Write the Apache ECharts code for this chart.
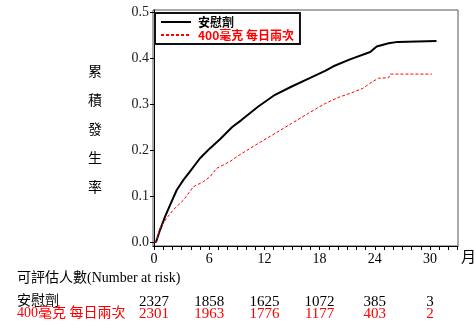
<!DOCTYPE html>
<html><head><meta charset="utf-8">
<script src="https://cdn.jsdelivr.net/npm/echarts@6/dist/echarts.min.js"></script>
<style>html,body{margin:0;padding:0;background:#fff}#c{width:475px;height:324px}</style>
</head><body><div id="c"></div>
<script>
const seriesNames = ['安慰劑', '400毫克 每日兩次'];
const placebo = [[0,0],[0.22,0],[0.65,0.026],[1.2,0.055],[1.74,0.08],[2.47,0.113],[3.2,0.135],[3.9,0.153],[5.0,0.182],[6.1,0.204],[7.2,0.224],[8.5,0.25],[9.5,0.265],[11.3,0.294],[13.15,0.32],[14.97,0.338],[16.8,0.355],[18.6,0.372],[19.5,0.382],[21.3,0.397],[23.5,0.413],[24.2,0.425],[25.5,0.432],[26.5,0.435],[26.6,0.437],[30.7,0.437]];
const dose400 = [[0,0],[0.22,0],[0.65,0.03],[1.38,0.052],[2.1,0.07],[3.2,0.091],[4.27,0.12],[5.36,0.131],[6.1,0.142],[6.8,0.16],[8.26,0.175],[9.35,0.19],[11.3,0.214],[13.15,0.236],[14.97,0.258],[16.8,0.28],[18.6,0.301],[20,0.314],[21.3,0.323],[22.7,0.334],[23.7,0.348],[24.4,0.356],[25.5,0.357],[25.7,0.365],[30.2,0.365]];
const xTicks = [0, 6, 12, 18, 24, 30];
const yTicks = [0, 0.1, 0.2, 0.3, 0.4, 0.5];
const riskPlacebo = [2327, 1858, 1625, 1072, 385, 3];
const risk400 = [2301, 1963, 1776, 1177, 403, 2];
const minorTicks = Array.from({length: 34}, (_, i) => i);

const chart = echarts.init(document.getElementById('c'));
const riskAxis = (vals, color, offset) => ({
  type: 'value', min: -0.11, max: 33.04, position: 'bottom', offset: offset,
  axisLine: {show: false}, axisTick: {show: false}, splitLine: {show: false},
  axisLabel: {customValues: xTicks, margin: 0, color: color,
    fontFamily: 'Liberation Serif', fontSize: 15,
    formatter: v => { const i = xTicks.indexOf(v); return i >= 0 ? String(vals[i]) : ''; }}
});
chart.setOption({
  animation: false,
  grid: {left: 153, right: 17, top: 10, bottom: 78, show: true, borderColor: '#555', borderWidth: 1},
  legend: {
    orient: 'vertical', left: 155, top: 13, padding: [3, 6, 3, 5], itemGap: 1,
    itemWidth: 30, itemHeight: 11, borderColor: '#111', borderWidth: 2, backgroundColor: '#fff',
    itemStyle: {color: 'transparent', borderColor: 'transparent', borderWidth: 0},
    textStyle: {fontFamily: 'Noto Sans CJK TC', fontSize: 12, fontWeight: 'bold', padding: [0,0,0,2]},
    data: [
      {name: seriesNames[0], textStyle: {color: '#000'}},
      {name: seriesNames[1], textStyle: {color: '#ff0000'}}
    ]
  },
  xAxis: [
    {type: 'value', min: -0.11, max: 33.04,
     axisLine: {onZero: false, lineStyle: {color: '#000'}},
     axisTick: {show: true, customValues: minorTicks, length: 4, lineStyle: {color: '#000'}},
     splitLine: {show: false},
     axisLabel: {customValues: xTicks, margin: 6, color: '#000', fontFamily: 'Liberation Sans Narrow', fontSize: 14}},
    riskAxis(riskPlacebo, '#000', 49),
    riskAxis(risk400, '#ff0000', 61)
  ],
  yAxis: {type: 'value', min: -0.0087, max: 0.5043,
    axisLine: {show: true, lineStyle: {color: '#000'}},
    axisTick: {show: true, customValues: yTicks, length: 4, lineStyle: {color: '#000'}},
    splitLine: {show: false},
    axisLabel: {customValues: yTicks, margin: 4, color: '#222', fontFamily: 'Liberation Sans Narrow', fontSize: 14,
      formatter: v => v.toFixed(1)}},
  series: [
    {name: seriesNames[0], type: 'line', data: placebo, symbol: 'none', showSymbol: false, xAxisIndex: 0,
     lineStyle: {color: '#000', width: 2}, itemStyle: {color: '#000'}},
    {name: seriesNames[1], type: 'line', data: dose400, symbol: 'none', showSymbol: false, xAxisIndex: 0,
     lineStyle: {color: '#ff0000', width: 1, type: [3, 2]}, itemStyle: {color: '#ff0000'}}
  ],
  graphic: [
    {type: 'text', left: 88, top: 56, style: {text: '累\n積\n發\n生\n率', fill: '#000', font: '14px "Noto Sans CJK TC"', lineHeight: 29}},
    {type: 'text', left: 461, top: 249, style: {text: '月', fill: '#000', font: '15px "Noto Sans CJK TC"'}},
    {type: 'text', left: 17, top: 271, style: {text: '可評估人數(Number at risk)', fill: '#000', font: '14px "Liberation Serif", "Noto Sans CJK TC"'}},
    {type: 'text', left: 17, top: 293, style: {text: '安慰劑', fill: '#000', font: '14px "Noto Sans CJK TC"'}},
    {type: 'text', left: 17, top: 306, style: {text: '400毫克 每日兩次', fill: '#ff0000', font: '14px "Liberation Serif", "Noto Sans CJK TC"'}}
  ]
});
</script></body></html>
